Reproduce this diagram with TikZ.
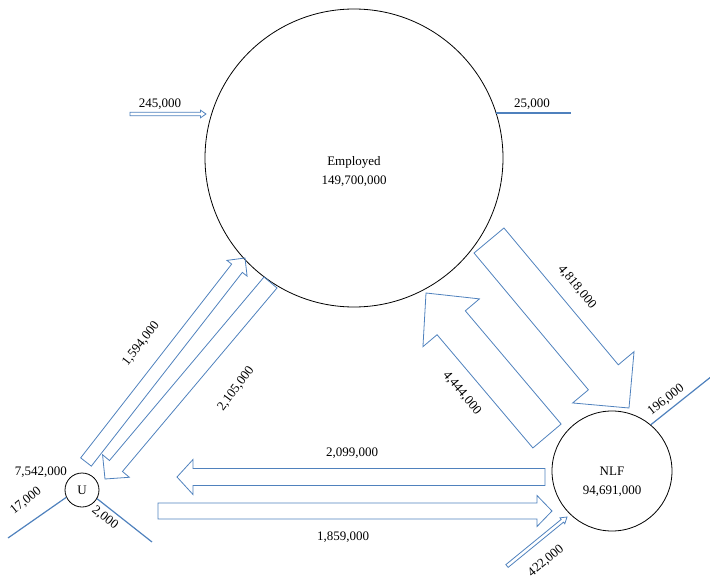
\documentclass[tikz,border=0pt]{standalone}
\usepackage{fontspec}
\setmainfont{Liberation Serif}
\usetikzlibrary{calc}

\definecolor{flowblue}{RGB}{79,129,189}

\tikzset{
	flow/.style={draw=flowblue, line width=0.8pt, line join=miter},
	flowline/.style={draw=flowblue, line width=1.2pt},
	stock/.style={circle, draw=black, line width=0.8pt, inner sep=0pt, align=center},
	num/.style={inner sep=0pt, font=\fontsize{13}{19}\selectfont}
}

\newcommand{\blockarrow}[5]{%
	\coordinate (ba) at ($(#2)!#5!(#1)$);
	\draw[flow] ($(#1)!#3!90:(#2)$) -- ($(ba)!#3!90:(#2)$) -- ($(ba)!#4!90:(#2)$) -- (#2)
		-- ($(ba)!#4!-90:(#2)$) -- ($(ba)!#3!-90:(#2)$) -- ($(#1)!#3!-90:(#2)$) -- cycle;}

\begin{document}
\begin{tikzpicture}[x=1pt, y=-1pt]
	
	\useasboundingbox (0,0) rectangle (710,578);
	
	\node[stock, minimum size=298pt] (emp) at (354,158) {};
	\node[num, align=center] (emptext) at (354,171) {Employed\\149,700,000};
	\node[stock, minimum size=34pt] (U) at (82,490) {};
	\node[num] (utext) at (82,490) {U};
	\node[stock, minimum size=120pt] (NLF) at (612,471) {};
	\node[num, align=center] (nlftext) at (612,482) {NLF\\94,691,000};
	
	\coordinate (in245) at (130,114);
	\coordinate (to245) at (206,114);
	\blockarrow{in245}{to245}{1.8pt}{3.8pt}{5.5pt}
	\node[num] (l245) at (160,104) {245,000};
	
	\coordinate (out25) at (571,113);
	\draw[flowline] (496,113) -- (out25);
	\node[num] (l25) at (532,104) {25,000};
	
	\coordinate (out17) at (8,538);
	\draw[flowline] (U.205) -- (out17);
	\node[num, rotate=39] (l17) at (26,501) {17,000};
	\coordinate (out2) at (152,542);
	\draw[flowline] (U.330) -- (out2);
	\node[num, rotate=-38] (l2) at (105,518) {2,000};
	\node[num] (l7542) at (41,472) {7,542,000};
	
	\coordinate (out196) at (712,376);
	\draw[flowline] (NLF.50) -- (out196);
	\node[num, rotate=38] (l196) at (666,400) {196,000};
	
	\coordinate (in422) at (507,566);
	\coordinate (to422) at (567,517);
	\blockarrow{in422}{to422}{1.8pt}{3.8pt}{6pt}
	\node[num, rotate=40] (l422) at (546,561) {422,000};
	
	\coordinate (nu1) at (545,477);
	\coordinate (nu2) at (177,477);
	\blockarrow{nu1}{nu2}{8.5pt}{17.5pt}{16pt}
	\node[num] (l2099) at (352,453) {2,099,000};
	
	\coordinate (un1) at (158,511);
	\coordinate (un2) at (552,511);
	\blockarrow{un1}{un2}{8pt}{15.5pt}{15pt}
	\node[num] (l1859) at (343,537) {1,859,000};
	
	\coordinate (ue1) at (86,462);
	\coordinate (ue2) at (245,258);
	\blockarrow{ue1}{ue2}{6.75pt}{12.8pt}{13pt}
	\node[num, rotate=52] (l1594) at (141,344) {1,594,000};
	
	\coordinate (eu1) at (270.5,282.5);
	\coordinate (eu2) at (105,479);
	\blockarrow{eu1}{eu2}{8.5pt}{17.5pt}{17pt}
	\node[num, rotate=53] (l2105) at (236,389) {2,105,000};
	
	\coordinate (en1) at (489,240.5);
	\coordinate (en2) at (629,408);
	\blockarrow{en1}{en2}{19.5pt}{40pt}{40pt}
	\node[num, rotate=-50] (l4818) at (577,287) {4,818,000};
	
	\coordinate (ne1) at (547,436);
	\coordinate (ne2) at (426,293);
	\blockarrow{ne1}{ne2}{18.5pt}{37pt}{39pt}
	\node[num, rotate=-50] (l4444) at (462,393) {4,444,000};
	
\end{tikzpicture}
\end{document}
